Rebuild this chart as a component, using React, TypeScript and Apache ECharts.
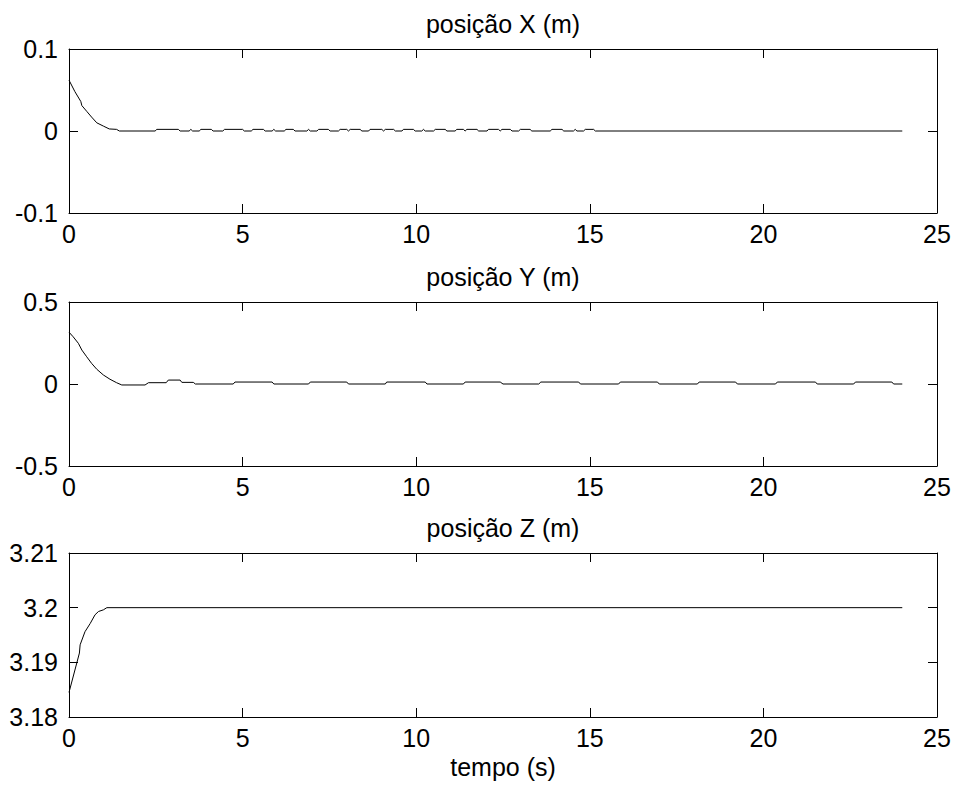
import React, { useEffect, useRef } from "react";
import * as echarts from "echarts";

// Titles and labels
const subplotTitles = ["posição X (m)", "posição Y (m)", "posição Z (m)"];
const xAxisTitle = "tempo (s)";

// Axis ranges: [min, max, interval]
const timeRange = [0, 25, 5];
const yRanges = [
  [-0.1, 0.1, 0.1],
  [-0.5, 0.5, 0.5],
  [3.18, 3.21, 0.01],
];

// posição X (m): [t, value]
const posX: number[][] = [
  [0, 0.062], [0.17, 0.048], [0.34, 0.036], [0.37, 0.031], [0.51, 0.024], [0.65, 0.017],
  [0.8, 0.010], [0.99, 0.006], [1.16, 0.0025], [1.37, 0.002], [1.45, 0],
  [2.48, 0], [2.53, 0.002], [3.15, 0.002], [3.2, 0], [3.46, 0], [3.51, 0.002], [3.56, 0],
  [3.75, 0], [3.8, 0.002], [4.1, 0.002], [4.15, 0], [4.43, 0], [4.48, 0.002], [5.0, 0.002],
  [5.05, 0], [5.25, 0], [5.3, 0.002], [5.6, 0.002], [5.65, 0], [5.85, 0], [5.9, 0.002],
  [5.95, 0], [6.2, 0], [6.25, 0.002], [6.46, 0.002], [6.51, 0], [6.85, 0], [6.9, 0.002],
  [6.95, 0], [7.14, 0], [7.19, 0.002], [7.47, 0.002], [7.52, 0], [7.76, 0], [7.81, 0.002],
  [8.0, 0.002], [8.05, 0], [8.1, 0.002], [8.39, 0.002], [8.43, 0], [8.63, 0], [8.67, 0.002],
  [9.01, 0.002], [9.06, 0], [9.11, 0.002], [9.35, 0.002], [9.4, 0], [9.59, 0], [9.63, 0.002],
  [9.92, 0.002], [9.97, 0], [10.16, 0], [10.21, 0.002], [10.26, 0], [10.5, 0], [10.55, 0.002],
  [10.84, 0.002], [10.88, 0], [11.12, 0], [11.17, 0.002], [11.36, 0.002], [11.41, 0],
  [11.46, 0.002], [11.75, 0.002], [11.8, 0], [12.04, 0], [12.08, 0.002], [12.37, 0.002],
  [12.42, 0], [12.47, 0.002], [12.71, 0.002], [12.76, 0], [12.95, 0], [13.0, 0.002],
  [13.28, 0.002], [13.33, 0], [13.86, 0], [13.91, 0.002], [14.2, 0.002], [14.25, 0],
  [14.53, 0], [14.58, 0.002], [14.63, 0], [14.82, 0], [14.87, 0.002], [15.11, 0.002],
  [15.16, 0], [24, 0],
];

// posição Y (m): [t, value]
const posY: number[][] = [
  [0, 0.316], [0.12, 0.288], [0.27, 0.248], [0.37, 0.207], [0.51, 0.166], [0.65, 0.126],
  [0.8, 0.09], [0.99, 0.055], [1.18, 0.029], [1.37, 0.008], [1.52, -0.006], [2.19, -0.006],
  [2.29, 0.008], [2.8, 0.008], [2.86, 0.024], [3.2, 0.024], [3.25, 0.01], [3.58, 0.01],
  [3.64, 0], [4.73, 0], [4.78, 0.012], [5.85, 0.012], [5.9, 0], [6.9, 0], [6.95, 0.012],
  [8.0, 0.012], [8.05, 0], [9.11, 0], [9.15, 0.012], [10.26, 0.012], [10.31, 0], [11.36, 0],
  [11.41, 0.012], [12.42, 0.012], [12.5, 0], [13.53, 0], [13.59, 0.012], [14.68, 0.012],
  [14.73, 0], [15.83, 0], [15.88, 0.012], [16.95, 0.012], [17.0, 0], [18.1, 0],
  [18.15, 0.012], [19.2, 0.012], [19.25, 0], [20.35, 0], [20.4, 0.012], [21.5, 0.012],
  [21.55, 0], [22.6, 0], [22.65, 0.012], [23.7, 0.012], [23.75, 0], [24, 0],
];

// posição Z (m): [t, value]
const posZ: number[][] = [
  [0, 3.1845], [0.3, 3.1917], [0.32, 3.1932], [0.46, 3.1956], [0.61, 3.1971], [0.75, 3.1987],
  [0.85, 3.1993], [0.99, 3.1996], [1.09, 3.2], [24, 3.2],
];

const seriesData = [posX, posY, posZ];

const FONT = "'Liberation Sans', Arial, Helvetica, sans-serif";
const FS = 25;
const gridTops = [49, 302, 553];
const gridLeft = 69;
const gridWidth = 868;
const gridHeight = 164;

export default function App() {
  const ref = useRef<HTMLDivElement>(null);
  useEffect(() => {
    if (!ref.current) return;
    const chart = echarts.init(ref.current, null, { renderer: "svg" });
    const axisLine = { show: true, onZero: false, lineStyle: { color: "#000", width: 1 } };
    const tickStyle = { show: true, inside: true, length: 9, lineStyle: { color: "#000", width: 1 } };
    const fmt = (v: number) => String(parseFloat(v.toFixed(3)));
    const grids: any[] = [];
    const xAxes: any[] = [];
    const yAxes: any[] = [];
    const series: any[] = [];
    gridTops.forEach((top, i) => {
      grids.push({
        left: gridLeft,
        top,
        width: gridWidth,
        height: gridHeight,
        containLabel: false,
        outerBoundsMode: "none",
        show: false,
      });
      ["bottom", "top"].forEach((pos) => {
        xAxes.push({
          type: "value",
          gridIndex: i,
          position: pos,
          min: timeRange[0],
          max: timeRange[1],
          interval: timeRange[2],
          axisLine,
          axisTick: tickStyle,
          splitLine: { show: false },
          axisLabel: {
            show: pos === "bottom",
            color: "#000",
            fontSize: FS,
            fontFamily: FONT,
            margin: 8,
            showMinLabel: true,
            showMaxLabel: true,
            formatter: fmt,
          },
        });
      });
      const [mn, mx, iv] = yRanges[i];
      ["left", "right"].forEach((pos) => {
        yAxes.push({
          type: "value",
          gridIndex: i,
          position: pos,
          min: mn,
          max: mx,
          interval: iv,
          axisLine,
          axisTick: tickStyle,
          splitLine: { show: false },
          axisLabel: {
            show: pos === "left",
            color: "#000",
            fontSize: FS,
            fontFamily: FONT,
            margin: 11,
            showMinLabel: true,
            showMaxLabel: true,
            formatter: fmt,
          },
        });
      });
      series.push({
        type: "line",
        xAxisIndex: i * 2,
        yAxisIndex: i * 2,
        data: seriesData[i],
        showSymbol: false,
        symbol: "none",
        lineStyle: { color: "#000", width: 1 },
        silent: true,
      });
    });
    const graphics: any[] = subplotTitles.map((t, i) => ({
      type: "text",
      x: gridLeft + gridWidth / 2,
      y: gridTops[i] - 25,
      style: {
        text: t,
        fill: "#000",
        fontSize: FS,
        fontFamily: FONT,
        align: "center",
        verticalAlign: "middle",
      },
    }));
    graphics.push({
      type: "text",
      x: gridLeft + gridWidth / 2,
      y: 767,
      style: {
        text: xAxisTitle,
        fill: "#000",
        fontSize: FS,
        fontFamily: FONT,
        align: "center",
        verticalAlign: "middle",
      },
    });
    chart.setOption({
      animation: false,
      backgroundColor: "#fff",
      grid: grids,
      xAxis: xAxes,
      yAxis: yAxes,
      series,
      graphic: graphics,
    });
    return () => chart.dispose();
  }, []);
  return (
    <div
      ref={ref}
      style={{ position: "absolute", left: 0, top: 0, width: 956, height: 792 }}
    />
  );
}
